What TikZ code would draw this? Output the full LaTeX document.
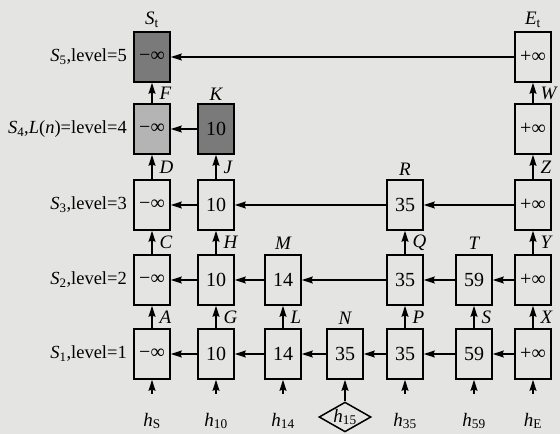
\documentclass[tikz,border=0pt]{standalone}
\usepackage{fontspec}
\setmainfont{Liberation Serif}
\usetikzlibrary{arrows.meta,shapes.geometric}
\definecolor{bgc}{RGB}{228,228,226}
\definecolor{darkfill}{RGB}{122,122,122}
\definecolor{lightfill}{RGB}{180,180,180}
\begin{document}
\begin{tikzpicture}[x=1pt,y=-1pt,
  font=\fontsize{18.5}{22}\selectfont,
  cell/.style={draw, line width=1.7pt, minimum width=36pt, minimum height=50pt, inner sep=0pt, font=\fontsize{20}{22}\selectfont},
  arr/.style={line width=1.2pt, -{Stealth[length=11pt,width=7pt,inset=1.5pt]}},
  tag/.style={font=\fontsize{19}{22}\selectfont\itshape, inner sep=1pt},
  side/.style={tag, right, xshift=6pt},
  lvl/.style={anchor=east, inner sep=0pt},
  hlab/.style={inner sep=0pt, anchor=base, text height=32pt, font=\fontsize{19}{22}\selectfont}]
\fill[bgc] (0,0) rectangle (560,434);
% level labels
\node[lvl] (L5) at (127,57) {\textit{S}\textsubscript{5},level=5};
\node[lvl] (L4) at (127,129) {\textit{S}\textsubscript{4},\textit{L}(\textit{n})=level=4};
\node[lvl] (L3) at (127,205) {\textit{S}\textsubscript{3},level=3};
\node[lvl] (L2) at (127,280) {\textit{S}\textsubscript{2},level=2};
\node[lvl] (L1) at (127,354) {\textit{S}\textsubscript{1},level=1};
% row 5
\node[cell, fill=darkfill] (n15) at (152,57) {−∞};
\node[cell] (n75) at (533,57) {+∞};
% row 4
\node[cell, fill=lightfill] (n14) at (152,129) {−∞};
\node[cell, fill=darkfill] (n24) at (216,129) {10};
\node[cell] (n74) at (533,129) {+∞};
% row 3
\node[cell] (n13) at (152,205) {−∞};
\node[cell] (n23) at (216,205) {10};
\node[cell] (n53) at (405,205) {35};
\node[cell] (n73) at (533,205) {+∞};
% row 2
\node[cell] (n12) at (152,280) {−∞};
\node[cell] (n22) at (216,280) {10};
\node[cell] (n32) at (283,280) {14};
\node[cell] (n52) at (405,280) {35};
\node[cell] (n62) at (474,280) {59};
\node[cell] (n72) at (533,280) {+∞};
% row 1
\node[cell] (n11) at (152,354) {−∞};
\node[cell] (n21) at (216,354) {10};
\node[cell] (n31) at (283,354) {14};
\node[cell] (n41) at (345,354) {35};
\node[cell] (n51) at (405,354) {35};
\node[cell] (n61) at (474,354) {59};
\node[cell] (n71) at (533,354) {+∞};
% top labels
\node[tag] (tSt) at (152,20) {S\textsubscript{\upshape t}};
\node[tag] (tEt) at (533,20) {E\textsubscript{\upshape t}};
\node[tag] (tK) at (216,94) {K};
\node[tag] (tR) at (405,169) {R};
\node[tag] (tM) at (283,243) {M};
\node[tag] (tT) at (474,243) {T};
\node[tag] (tN) at (345,318) {N};
% horizontal arrows
\draw[arr] (n75) -- (n15);
\draw[arr] (n24) -- (n14);
\draw[arr] (n73) -- (n53);
\draw[arr] (n53) -- (n23);
\draw[arr] (n23) -- (n13);
\draw[arr] (n72) -- (n62);
\draw[arr] (n62) -- (n52);
\draw[arr] (n52) -- (n32);
\draw[arr] (n32) -- (n22);
\draw[arr] (n22) -- (n12);
\draw[arr] (n71) -- (n61);
\draw[arr] (n61) -- (n51);
\draw[arr] (n51) -- (n41);
\draw[arr] (n41) -- (n31);
\draw[arr] (n31) -- (n21);
\draw[arr] (n21) -- (n11);
% vertical arrows
\draw[arr] (n11) -- node[side] (lA) {A} (n12);
\draw[arr] (n12) -- node[side] (lC) {C} (n13);
\draw[arr] (n13) -- node[side] (lD) {D} (n14);
\draw[arr] (n14) -- node[side] (lF) {F} (n15);
\draw[arr] (n21) -- node[side] (lG) {G} (n22);
\draw[arr] (n22) -- node[side] (lH) {H} (n23);
\draw[arr] (n23) -- node[side] (lJ) {J} (n24);
\draw[arr] (n31) -- node[side] (lL) {L} (n32);
\draw[arr] (n51) -- node[side] (lP) {P} (n52);
\draw[arr] (n52) -- node[side] (lQ) {Q} (n53);
\draw[arr] (n61) -- node[side] (lS) {S} (n62);
\draw[arr] (n71) -- node[side] (lX) {X} (n72);
\draw[arr] (n72) -- node[side] (lY) {Y} (n73);
\draw[arr] (n73) -- node[side] (lZ) {Z} (n74);
\draw[arr] (n74) -- node[side] (lW) {W} (n75);
% bottom inputs
\node[hlab] (hS) at (152,426) {\textit{h}\textsubscript{S}};
\node[hlab] (h10) at (216,426) {\textit{h}\textsubscript{10}};
\node[hlab] (h14) at (283,426) {\textit{h}\textsubscript{14}};
\node[diamond, draw, line width=1.5pt, aspect=1.7, minimum width=52pt, minimum height=29pt, inner sep=0pt, font=\fontsize{19}{22}\selectfont] (h15) at (345,417) {\textit{h}\textsubscript{15}};
\node[hlab] (h35) at (405,426) {\textit{h}\textsubscript{35}};
\node[hlab] (h59) at (474,426) {\textit{h}\textsubscript{59}};
\node[hlab] (hE) at (533,426) {\textit{h}\textsubscript{E}};
\draw[arr] (hS) -- (n11);
\draw[arr] (h10) -- (n21);
\draw[arr] (h14) -- (n31);
\draw[arr] (h15) -- (n41);
\draw[arr] (h35) -- (n51);
\draw[arr] (h59) -- (n61);
\draw[arr] (hE) -- (n71);
\end{tikzpicture}
\end{document}
